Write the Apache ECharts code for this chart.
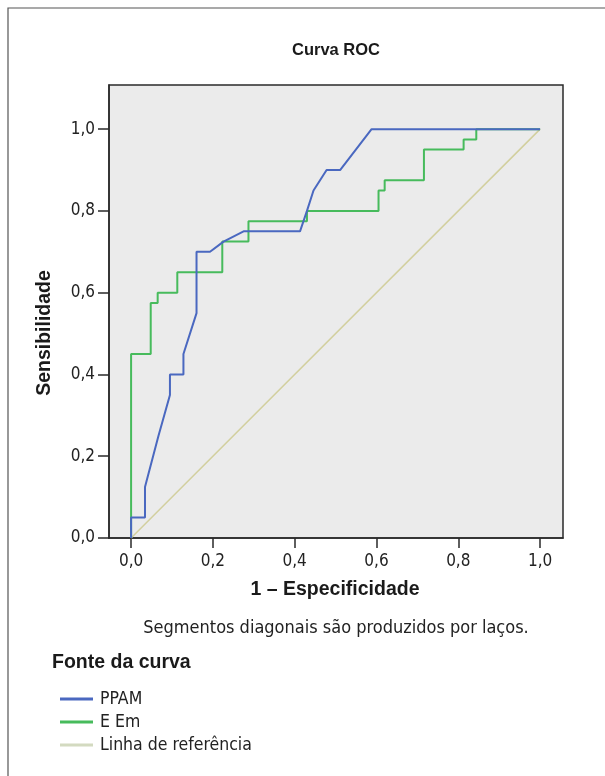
<!DOCTYPE html>
<html>
<head>
<meta charset="utf-8">
<script src="https://cdn.jsdelivr.net/npm/echarts@6/dist/echarts.min.js"></script>
<style>
html,body{margin:0;padding:0;background:#fff;}
#c{width:605px;height:776px;}
</style>
</head>
<body>
<div id="c"></div>
<script>
// ---- data ----
var seriesNames = ['PPAM', 'E Em', 'Linha de referência'];
var ppamFpr = [0, 0, 0.034, 0.034, 0.067, 0.095, 0.095, 0.128, 0.128, 0.160, 0.160, 0.193, 0.226, 0.275, 0.413, 0.430, 0.446, 0.478, 0.511, 0.588, 1.0];
var ppamTpr = [0, 0.05, 0.05, 0.125, 0.25, 0.35, 0.40, 0.40, 0.45, 0.55, 0.70, 0.70, 0.725, 0.75, 0.75, 0.80, 0.85, 0.90, 0.90, 1.0, 1.0];
var eemFpr = [0, 0, 0.048, 0.048, 0.065, 0.065, 0.113, 0.113, 0.223, 0.223, 0.287, 0.287, 0.430, 0.430, 0.605, 0.605, 0.620, 0.620, 0.716, 0.716, 0.813, 0.813, 0.844, 0.844, 1.0];
var eemTpr = [0, 0.45, 0.45, 0.575, 0.575, 0.60, 0.60, 0.65, 0.65, 0.725, 0.725, 0.775, 0.775, 0.80, 0.80, 0.85, 0.85, 0.875, 0.875, 0.95, 0.95, 0.975, 0.975, 1.0, 1.0];
var refX = [0, 1];
var refY = [0, 1];
var tickValues = [0, 0.2, 0.4, 0.6, 0.8, 1.0];

function pts(xs, ys) { return xs.map(function (x, i) { return [x, ys[i]]; }); }
function fmt(v) { return v.toFixed(1).replace('.', ','); }

var FONT = '"DejaVu Sans Condensed", "Liberation Sans", sans-serif';
var BOLD = '"Liberation Sans", "DejaVu Sans", sans-serif';
var colBlue = '#4a68c0', colGreen = '#47bb5c', colRef = '#d2cf9e';

var chart = echarts.init(document.getElementById('c'), null, { renderer: 'canvas' });
chart.setOption({
  animation: false,
  backgroundColor: '#ffffff',
  grid: {
    left: 109, top: 85, width: 454, height: 453,
    show: true, backgroundColor: '#ebebeb', borderColor: '#2a2a2a', borderWidth: 1.5,
    containLabel: false
  },
  xAxis: {
    type: 'value', min: -0.054, max: 1.056,
    axisLine: { show: true, onZero: false, lineStyle: { color: '#2a2a2a', width: 1.5 } },
    axisTick: { show: true, length: 10, lineStyle: { color: '#2a2a2a', width: 1.5 }, customValues: tickValues },
    axisLabel: { fontFamily: FONT, fontSize: 17, color: '#222', margin: 15, customValues: tickValues, formatter: fmt },
    splitLine: { show: false }
  },
  yAxis: {
    type: 'value', min: 0, max: 1.108,
    axisLine: { show: true, onZero: false, lineStyle: { color: '#2a2a2a', width: 1.5 } },
    axisTick: { show: true, length: 11, lineStyle: { color: '#2a2a2a', width: 1.5 }, customValues: tickValues },
    axisLabel: { fontFamily: FONT, fontSize: 17, color: '#222', margin: 14, customValues: tickValues, formatter: fmt },
    splitLine: { show: false }
  },
  legend: {
    orient: 'vertical', left: 55, top: 685,
    itemWidth: 33, itemHeight: 3, itemGap: 5, icon: 'rect',
    textStyle: { fontFamily: FONT, fontSize: 17.5, color: '#222', padding: [0, 0, 0, 2], lineHeight: 17 },
    data: seriesNames
  },
  series: [
    { name: seriesNames[2], type: 'line', data: pts(refX, refY), showSymbol: false, symbol: 'none',
      lineStyle: { color: colRef, width: 1.5 }, itemStyle: { color: '#d3dac0' }, z: 1 },
    { name: seriesNames[1], type: 'line', data: pts(eemFpr, eemTpr), showSymbol: false, symbol: 'none',
      lineStyle: { color: colGreen, width: 2 }, itemStyle: { color: colGreen }, z: 2 },
    { name: seriesNames[0], type: 'line', data: pts(ppamFpr, ppamTpr), showSymbol: false, symbol: 'none',
      lineStyle: { color: colBlue, width: 2 }, itemStyle: { color: colBlue }, z: 3 }
  ],
  graphic: [
    { type: 'rect', shape: { x: 8, y: 8, width: 700, height: 800 }, style: { fill: 'none', stroke: '#555', lineWidth: 1.2 }, silent: true, z: -10 },
    { type: 'text', x: 336, y: 50, style: { text: 'Curva ROC', font: 'bold 16.5px ' + BOLD, fill: '#1a1a1a', textAlign: 'center', textVerticalAlign: 'middle' } },
    { type: 'text', x: 335, y: 590, style: { text: '1 – Especificidade', font: 'bold 19.5px ' + BOLD, fill: '#1a1a1a', textAlign: 'center', textVerticalAlign: 'middle' } },
    { type: 'text', x: 45, y: 333, rotation: Math.PI / 2, style: { text: 'Sensibilidade', font: 'bold 19.5px ' + BOLD, fill: '#1a1a1a', textAlign: 'center', textVerticalAlign: 'middle' } },
    { type: 'text', x: 336, y: 628, style: { text: 'Segmentos diagonais são produzidos por laços.', font: '18px ' + FONT, fill: '#222', textAlign: 'center', textVerticalAlign: 'middle' } },
    { type: 'text', x: 52, y: 663, style: { text: 'Fonte da curva', font: 'bold 19.5px ' + BOLD, fill: '#1a1a1a', textAlign: 'left', textVerticalAlign: 'middle' } }
  ]
});
</script>
</body>
</html>
